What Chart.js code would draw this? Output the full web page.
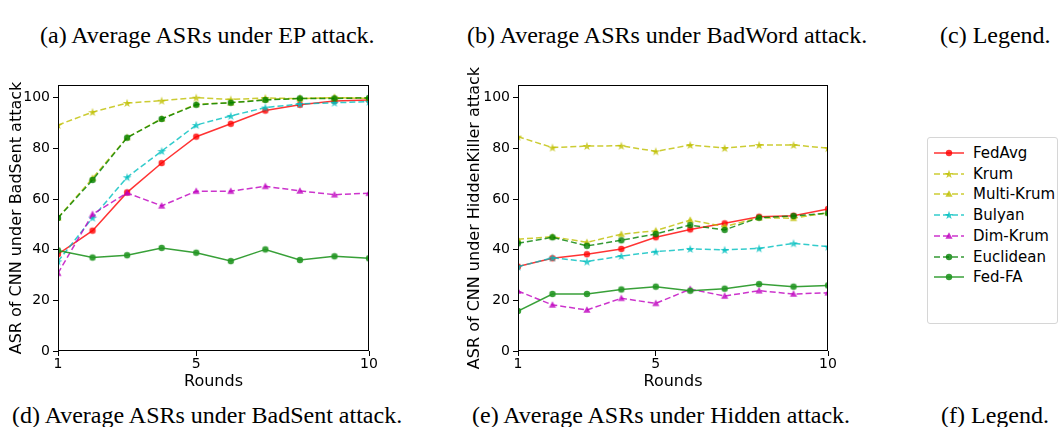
<!DOCTYPE html>
<html>
<head>
<meta charset="utf-8">
<script src="https://cdn.jsdelivr.net/npm/chart.js@4.4.0/dist/chart.umd.min.js"></script>
<style>
  html, body { margin: 0; padding: 0; background: #fff; }
  body { position: relative; width: 1058px; height: 427px; overflow: hidden; }
  .cap { position: absolute; font-family: 'Liberation Serif', 'Times New Roman', serif; font-size: 24px; color: #000; white-space: nowrap; line-height: normal; }
  canvas.plot { position: absolute; }
  #legend { position: absolute; left: 927px; top: 137px; width: 129px; height: 185px; border: 1px solid #d6d6d6; border-radius: 3px; font-family: 'DejaVu Sans', sans-serif; font-size: 15px; color: #000; }
  #legend .sample { position: absolute; left: 5px; }
  #legend .label { position: absolute; left: 45px; line-height: 20px; white-space: nowrap; }
</style>
</head>
<body>
<div class="cap" style="left:40px; top:22px">(a) Average ASRs under EP attack.</div>
<div class="cap" style="left:467px; top:22px">(b) Average ASRs under BadWord attack.</div>
<div class="cap" style="left:940px; top:22px">(c) Legend.</div>

<canvas id="chart-badsent" class="plot" width="390" height="335" style="left:0; top:60px"></canvas>
<canvas id="chart-hidden" class="plot" width="390" height="335" style="left:460px; top:60px"></canvas>
<div id="legend"></div>

<div class="cap" style="left:12px; top:402px">(d) Average ASRs under BadSent attack.</div>
<div class="cap" style="left:472px; top:402px">(e) Average ASRs under Hidden attack.</div>
<div class="cap" style="left:941px; top:402px">(f) Legend.</div>

<script>
/* ---------- data ---------- */
const rounds = [1, 2, 3, 4, 5, 6, 7, 8, 9, 10];
const xTicks = [1, 5, 10];
const yTicks = [0, 20, 40, 60, 80, 100];
const methods = ['FedAvg', 'Krum', 'Multi-Krum', 'Bulyan', 'Dim-Krum', 'Euclidean', 'Fed-FA'];

// BadSent attack
const fedavgBS    = [38.2, 47.5, 62.6, 74.2, 84.6, 89.7, 94.9, 97.2, 98.7, 99.1];
const krumBS      = [89.2, 94.3, 97.9, 98.8, 100.0, 99.3, 99.9, 99.6, 100.0, 99.7];
const multiKrumBS = [52.6, 68.2, 84.3, 91.7, 97.4, 98.0, 99.3, 99.7, 100.0, 100.0];
const bulyanBS    = [35.4, 52.6, 68.6, 78.9, 89.2, 92.8, 96.1, 97.5, 98.0, 98.4];
const dimKrumBS   = [30.7, 54.0, 62.4, 57.3, 63.1, 63.1, 65.0, 63.2, 61.7, 62.3];
const euclideanBS = [52.5, 67.5, 84.2, 91.6, 97.2, 98.0, 99.1, 99.7, 99.7, 99.9];
const fedFaBS     = [39.7, 36.9, 37.8, 40.7, 38.8, 35.5, 40.1, 35.9, 37.4, 36.6];

// HiddenKiller attack
const fedavgHK    = [33.3, 36.6, 38.2, 40.3, 44.9, 48.0, 50.4, 53.0, 53.4, 56.1];
const krumHK      = [84.6, 80.3, 80.9, 81.0, 78.8, 81.3, 80.1, 81.3, 81.3, 80.1];
const multiKrumHK = [44.1, 45.1, 42.9, 46.1, 47.5, 51.7, 49.1, 52.6, 52.4, 54.6];
const bulyanHK    = [33.3, 36.8, 35.3, 37.5, 39.2, 40.3, 39.9, 40.5, 42.5, 41.2];
const dimKrumHK   = [23.7, 18.2, 16.2, 20.8, 18.8, 24.4, 21.7, 23.8, 22.5, 23.0];
const euclideanHK = [42.5, 44.9, 41.5, 43.7, 46.2, 49.7, 47.8, 52.6, 53.3, 54.4];
const fedFaHK     = [15.8, 22.5, 22.5, 24.3, 25.4, 23.8, 24.6, 26.4, 25.4, 25.9];

/* ---------- styles ---------- */
const colors  = ['rgba(255,0,0,0.8)', 'rgba(191,191,0,0.8)', 'rgba(191,191,0,0.8)', 'rgba(0,191,191,0.8)',
                 'rgba(191,0,191,0.8)', 'rgba(0,128,0,0.8)', 'rgba(34,150,34,0.9)'];
const dashed  = [false, true, true, true, true, true, false];
const markers = ['circle', 'star', 'triangle', 'star', 'triangle', 'circle', 'circle'];
const FONT = "'DejaVu Sans', sans-serif";

// small canvas markers (matplotlib-like filled shapes)
function makeMarker(shape, color) {
  const c = document.createElement('canvas');
  c.width = 10; c.height = 10;
  const g = c.getContext('2d');
  g.fillStyle = color;
  g.beginPath();
  if (shape === 'circle') {
    g.arc(5, 5, 3.2, 0, Math.PI * 2);
  } else if (shape === 'triangle') {
    g.moveTo(5, 1.3); g.lineTo(8.6, 7.7); g.lineTo(1.4, 7.7);
  } else {
    for (let i = 0; i < 10; i++) {
      const r = i % 2 ? 1.8 : 4.6;
      const a = -Math.PI / 2 + i * Math.PI / 5;
      g.lineTo(5 + r * Math.cos(a), 5.4 + r * Math.sin(a));
    }
  }
  g.closePath();
  g.fill();
  return c;
}

function buildDatasets(series) {
  return series.map((vals, i) => ({
    label: methods[i],
    data: vals.map((v, k) => ({ x: rounds[k], y: v })),
    borderColor: colors[i],
    backgroundColor: colors[i],
    borderWidth: 1.5,
    borderDash: dashed[i] ? [6, 3] : [],
    pointStyle: makeMarker(markers[i], colors[i]),
    tension: 0,
    fill: false,
    order: series.length - i,
  }));
}

/* ---------- frame around plot area ---------- */
const framePlugin = {
  id: 'frame',
  afterDatasetsDraw(chart) {
    const { ctx, chartArea: a } = chart;
    ctx.save();
    ctx.strokeStyle = '#000';
    ctx.lineWidth = 1;
    ctx.strokeRect(Math.round(a.left) + 0.5, Math.round(a.top) + 0.5,
                   Math.round(a.right - a.left) - 1, Math.round(a.bottom - a.top) - 1);
    ctx.restore();
  },
};

function chartOptions(yTitle, yWidth, padRight, yTitlePad) {
  return {
    responsive: false,
    animation: false,
    devicePixelRatio: 1,
    layout: { padding: { top: 25, right: padRight, bottom: 0, left: 0 } },
    plugins: { legend: { display: false }, tooltip: { enabled: false } },
    scales: {
      x: {
        type: 'linear', min: 1, max: 10,
        afterBuildTicks: s => { s.ticks = xTicks.map(v => ({ value: v })); },
        afterFit: s => { s.height = 44; },
        grid: { drawOnChartArea: false, drawTicks: true, tickLength: 5, color: '#000' },
        border: { display: false },
        ticks: { font: { family: FONT, size: 14 }, color: '#000', padding: 0, maxRotation: 0, autoSkip: false,
                 callback: v => String(v) },
        title: { display: true, text: 'Rounds', font: { family: FONT, size: 16 }, color: '#000',
                 padding: { top: 0, bottom: 4 } },
      },
      y: {
        type: 'linear', min: 0, max: 105,
        afterBuildTicks: s => { s.ticks = yTicks.map(v => ({ value: v })); },
        afterFit: s => { s.width = yWidth; },
        grid: { drawOnChartArea: false, drawTicks: true, tickLength: 5, color: '#000' },
        border: { display: false },
        ticks: { font: { family: FONT, size: 14 }, color: '#000', padding: 3, callback: v => String(v) },
        title: { display: true, text: yTitle, font: { family: FONT, size: 16 }, color: '#000',
                 padding: { top: yTitlePad, bottom: 0 } },
      },
    },
  };
}

new Chart(document.getElementById('chart-badsent'), {
  type: 'line',
  data: { datasets: buildDatasets([fedavgBS, krumBS, multiKrumBS, bulyanBS, dimKrumBS, euclideanBS, fedFaBS]) },
  options: chartOptions('ASR of CNN under BadSent attack', 58, 21, 7),
  plugins: [framePlugin],
});

new Chart(document.getElementById('chart-hidden'), {
  type: 'line',
  data: { datasets: buildDatasets([fedavgHK, krumHK, multiKrumHK, bulyanHK, dimKrumHK, euclideanHK, fedFaHK]) },
  options: chartOptions('ASR of CNN under HiddenKiller attack', 58, 22, 5),
  plugins: [framePlugin],
});

/* ---------- legend ---------- */
const legend = document.getElementById('legend');
methods.forEach((name, i) => {
  const cy = 15 + i * 20.7;
  const c = document.createElement('canvas');
  c.className = 'sample';
  c.width = 32; c.height = 12;
  c.style.top = (cy - 6) + 'px';
  const g = c.getContext('2d');
  g.strokeStyle = colors[i];
  g.lineWidth = 1.5;
  g.setLineDash(dashed[i] ? [6, 3] : []);
  g.beginPath(); g.moveTo(1, 6); g.lineTo(31, 6); g.stroke();
  g.drawImage(makeMarker(markers[i], colors[i]), 11, 1);
  legend.appendChild(c);
  const s = document.createElement('span');
  s.className = 'label';
  s.style.top = (cy - 10) + 'px';
  s.textContent = name;
  legend.appendChild(s);
});
</script>
</body>
</html>
